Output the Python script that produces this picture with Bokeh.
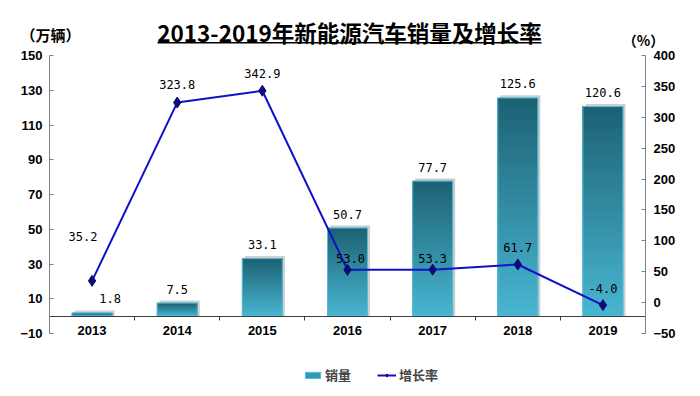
from bokeh.plotting import figure
from bokeh.models import (Range1d, LinearAxis, FixedTicker, Label, Legend, LegendItem,
                          BoxAnnotation)
from bokeh.core.properties import value
from bokeh.embed import file_html
from bokeh.resources import INLINE

# ---------------- data ----------------
years = ["2013", "2014", "2015", "2016", "2017", "2018", "2019"]
sales = [1.8, 7.5, 33.1, 50.7, 77.7, 125.6, 120.6]          # 万辆
growth = [35.2, 323.8, 342.9, 53.0, 53.3, 61.7, -4.0]       # %
left_ticks = [-10, 10, 30, 50, 70, 90, 110, 130, 150]
right_ticks = [-50, 0, 50, 100, 150, 200, 250, 300, 350, 400]

# ---------------- styling / layout (pixels) ----------------
W, H = 692, 388
PL, PR, PT, PB = 49, 645, 55, 333          # plot box edges in canvas pixels
bar_label_dx = [18, 0, 0, 0, 0, 0, 0]
rate_label_dx = [-9, 0, 0, 3, 0, 0, 0]
rate_label_dy = [-44, -18, -17, -11, -11, -17, -17]

n = len(years)
xs = [i + 0.5 for i in range(n)]
bounds = list(range(1, n))
BAR_W = 0.47
CJK = "Noto Sans CJK SC"
NUM = "Liberation Sans"
MONO = "DejaVu Sans Mono"

# ranges that make the plot box land on PL..PR / PT..PB while the frame fills the canvas
xppu = (PR - PL) / n
ylo, yhi = left_ticks[0], left_ticks[-1]
rlo, rhi = right_ticks[0], right_ticks[-1]
yppu = (PB - PT) / (yhi - ylo)
rppu = (PB - PT) / (rhi - rlo)
x_range = Range1d(-PL / xppu, n + (W - PR) / xppu)
y_range = Range1d(ylo - (H - PB) / yppu, yhi + PT / yppu)
r_range = Range1d(rlo - (H - PB) / rppu, rhi + PT / rppu)

p = figure(width=W, height=H, output_backend="svg", toolbar_location=None,
           x_range=x_range, y_range=y_range,
           min_border=0, min_border_left=0, min_border_right=0, min_border_top=0,
           min_border_bottom=0, x_axis_location=None, y_axis_location=None)
p.outline_line_color = None
p.xgrid.visible = False
p.ygrid.visible = False
p.background_fill_color = "white"
p.border_fill_color = "white"
p.extra_y_ranges = {"rate": r_range}


def style_axis(ax):
    ax.major_label_text_font = NUM
    ax.major_label_text_font_style = "bold"
    ax.major_label_text_font_size = "13px"
    ax.major_label_text_color = "black"


ly = LinearAxis(ticker=FixedTicker(ticks=left_ticks), axis_line_color="#808080",
                major_tick_line_color="#808080", major_tick_in=4, major_tick_out=0,
                minor_tick_line_color=None, major_label_standoff=7,
                fixed_location=0, bounds=(ylo, yhi))
style_axis(ly)
p.add_layout(ly, "left")

ry = LinearAxis(y_range_name="rate", ticker=FixedTicker(ticks=right_ticks),
                axis_line_color="#808080", major_tick_line_color="#808080",
                major_tick_in=4, major_tick_out=0, minor_tick_line_color=None,
                major_label_standoff=8, fixed_location=n, bounds=(rlo, rhi))
style_axis(ry)
p.add_layout(ry, "right")

xa = LinearAxis(ticker=FixedTicker(ticks=xs, minor_ticks=bounds),
                major_label_overrides={x: y for x, y in zip(xs, years)},
                fixed_location=0, bounds=(0, n), axis_line_color="#404040",
                major_tick_line_color=None, major_tick_in=0, major_tick_out=0,
                minor_tick_line_color="#404040", minor_tick_in=0, minor_tick_out=4,
                major_label_standoff=6)
style_axis(xa)
p.add_layout(xa, "below")

# ---------------- bars ----------------
p.vbar(x=[x + 0.03 for x in xs], top=[v + 1.5 for v in sales], bottom=0, width=BAR_W,
       fill_color="#a0a0a0", fill_alpha=0.5, line_color=None)
bar_r = p.vbar(x=xs, top=sales, bottom=0, width=BAR_W, fill_color="#3598b2",
               line_color="#56bdd6", line_width=1)
N = 40
light = (0x48, 0xb5, 0xd1)
dark = (0x1d, 0x62, 0x74)
gl, gr, gb, gt, gc = [], [], [], [], []
for x, v in zip(xs, sales):
    for k in range(N):
        t = k / (N - 1)
        c = tuple(round(a + (b - a) * t) for a, b in zip(light, dark))
        gl.append(x - BAR_W / 2)
        gr.append(x + BAR_W / 2)
        gb.append(v * k / N)
        gt.append(v)
        gc.append("#%02x%02x%02x" % c)
p.quad(left=gl, right=gr, bottom=gb, top=gt, fill_color=gc, line_color=None)
p.vbar(x=xs, top=sales, bottom=0, width=BAR_W, fill_alpha=0,
       line_color="#56bdd6", line_width=1)

# ---------------- line ----------------
line_r = p.line(x=xs, y=growth, y_range_name="rate", line_color="#1010c8", line_width=2)
dot_r = p.scatter(x=xs, y=growth, y_range_name="rate", marker="diamond", size=11,
                  fill_color="#0c0c7a", line_color="#0c0c7a")

# ---------------- data labels ----------------
p.text(x=xs, y=sales, text=[f"{v:.1f}" for v in sales], x_offset=bar_label_dx,
       y_offset=-14, text_align="center", text_baseline="middle",
       text_font=value(MONO), text_font_size="12px", text_color="black")
p.text(x=xs, y=growth, y_range_name="rate", text=[f"{v:.1f}" for v in growth],
       x_offset=rate_label_dx, y_offset=rate_label_dy, text_align="center",
       text_baseline="middle", text_font=value(MONO), text_font_size="12px",
       text_color="black")

# ---------------- titles (screen units, frame == canvas, y from bottom) ----------------
p.add_layout(Label(x=349, y=H - 31, x_units="screen", y_units="screen",
                   text="2013-2019年新能源汽车销量及增长率", text_align="center",
                   text_baseline="middle", text_font=CJK, text_font_style="bold",
                   text_font_size="22.5px", text_color="black"))
p.add_layout(BoxAnnotation(left=157, right=541, bottom=H - 43, top=H - 41.5,
                           left_units="screen", right_units="screen",
                           bottom_units="screen", top_units="screen",
                           fill_color="black", fill_alpha=1, line_color=None))
p.add_layout(Label(x=50, y=H - 34, x_units="screen", y_units="screen", text="（万辆）",
                   text_align="center", text_baseline="middle", text_font=CJK,
                   text_font_style="bold", text_font_size="15px", text_color="black"))
p.add_layout(Label(x=643, y=H - 39, x_units="screen", y_units="screen", text="（%）",
                   text_align="center", text_baseline="middle", text_font=CJK,
                   text_font_style="bold", text_font_size="14px", text_color="black"))

# ---------------- legend ----------------
legend = Legend(items=[LegendItem(label="销量", renderers=[bar_r]),
                       LegendItem(label="增长率", renderers=[line_r, dot_r])],
                orientation="horizontal", location=(303, 4),
                label_text_font=CJK, label_text_font_style="bold",
                label_text_font_size="13px", label_standoff=3,
                glyph_width=19, glyph_height=8, spacing=26, padding=2, margin=0,
                border_line_color=None, background_fill_alpha=0)
p.add_layout(legend)

open("out.html", "w").write(file_html(p, INLINE))
